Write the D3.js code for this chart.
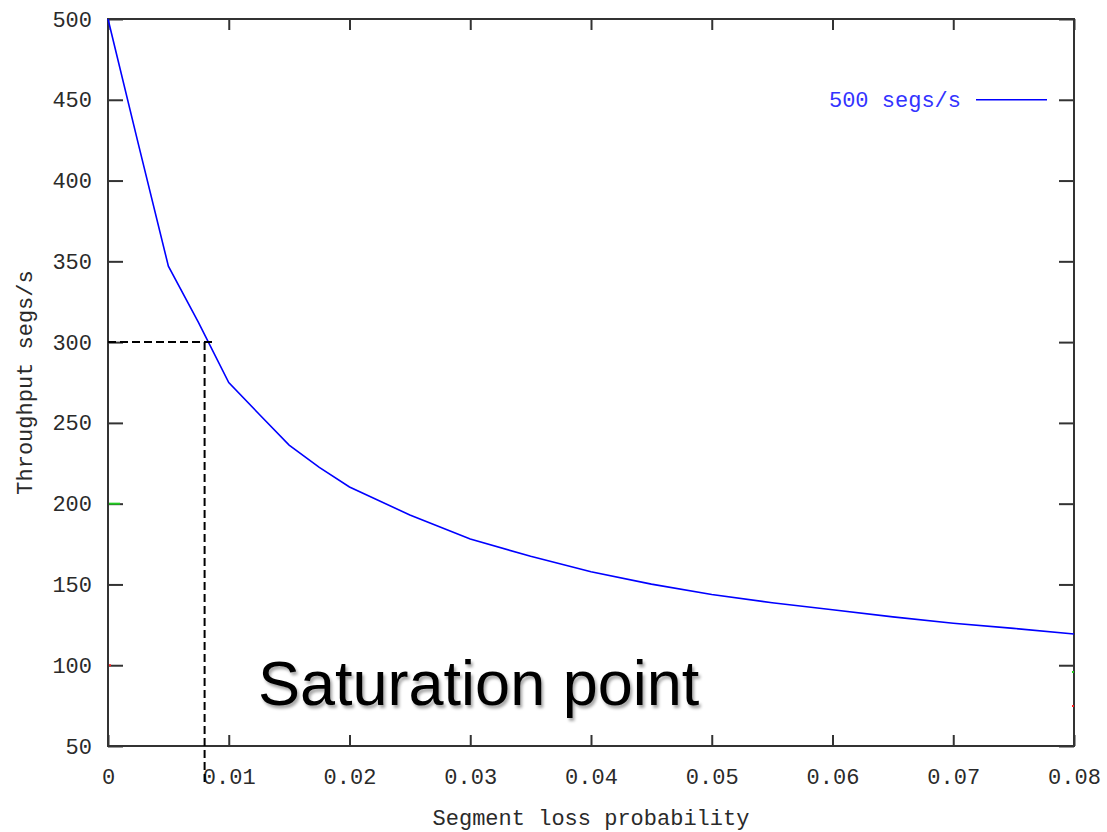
<!DOCTYPE html>
<html><head><meta charset="utf-8">
<script src="https://cdn.jsdelivr.net/npm/d3@7"></script>
<style>
html,body{margin:0;padding:0;background:#fff;}
svg{display:block;}
</style></head>
<body>
<script>
// ---- data ----
const lossProb = [0, 0.0025, 0.005, 0.0075, 0.01, 0.0125, 0.015, 0.0175, 0.02, 0.025, 0.03, 0.035, 0.04, 0.045, 0.05, 0.055, 0.06, 0.065, 0.07, 0.075, 0.08];
const throughput = [500, 423, 347, 312, 275, 255.5, 236.3, 222.5, 210.3, 193.0, 178.1, 167.4, 157.8, 150.2, 143.8, 138.7, 134.3, 129.9, 126.0, 122.8, 119.3];
const seriesName = "500 segs/s";
const xTicks = [0, 0.01, 0.02, 0.03, 0.04, 0.05, 0.06, 0.07, 0.08];
const yTicks = [50, 100, 150, 200, 250, 300, 350, 400, 450, 500];
const saturationX = 0.0080;
const saturationY = 300;
const stubX = [0, 0, 0.08, 0.08];
const stubY = [200, 100, 95.8, 74.8];
const stubColor = ["#22cc22", "#ff2222", "#22cc22", "#ff2222"];

const W = 1107, H = 832;
const m = {left:108, right:33, top:19, bottom:86};
const svg = d3.select("body").append("svg").attr("width", W).attr("height", H);

const x = d3.scaleLinear().domain([0, 0.08]).range([m.left, W - m.right]);
const y = d3.scaleLinear().domain([50, 500]).range([H - m.bottom, m.top]);

const axisColor = "#333";
const monoFont = "Liberation Mono, DejaVu Sans Mono, monospace";
const textColor = "#2a2a2a";
const fmtX = d => d === 0 ? "0" : d3.format(".2f")(d);

function styleAxis(g){
  g.select(".domain").remove();
  g.selectAll(".tick line").attr("stroke", axisColor).attr("stroke-width", 2);
  g.selectAll(".tick text").attr("fill", textColor).attr("font-size", 22).attr("font-family", monoFont);
}

// bottom axis (ticks inward)
svg.append("g").attr("transform", `translate(0,${y(50)})`)
  .call(d3.axisBottom(x).tickValues(xTicks).tickFormat(fmtX).tickSizeInner(-11).tickSizeOuter(0).tickPadding(22))
  .call(styleAxis);
// top axis (mirrored ticks, no labels)
svg.append("g").attr("transform", `translate(0,${y(500)})`)
  .call(d3.axisTop(x).tickValues(xTicks).tickFormat("").tickSizeInner(-11).tickSizeOuter(0))
  .call(styleAxis);
// left axis
svg.append("g").attr("transform", `translate(${x(0)},0)`)
  .call(d3.axisLeft(y).tickValues(yTicks).tickSizeInner(-15).tickSizeOuter(0).tickPadding(16))
  .call(styleAxis);
// right axis (mirrored)
svg.append("g").attr("transform", `translate(${x(0.08)},0)`)
  .call(d3.axisRight(y).tickValues(yTicks).tickFormat("").tickSizeInner(-15).tickSizeOuter(0))
  .call(styleAxis);

// frame
svg.append("rect").attr("x", x(0)).attr("y", y(500))
  .attr("width", x(0.08) - x(0)).attr("height", y(50) - y(500))
  .attr("fill", "none").attr("stroke", axisColor).attr("stroke-width", 2);

// little stubs of hidden series at the border
svg.append("g").selectAll("line").data(stubX).join("line")
  .attr("x1", (d,i) => x(d) + (d === 0 ? 1 : -2))
  .attr("x2", (d,i) => x(d) + (d === 0 ? (i===0 ? 12 : 3) : 0))
  .attr("y1", (d,i) => y(stubY[i])).attr("y2", (d,i) => y(stubY[i]))
  .attr("stroke", (d,i) => stubColor[i]).attr("stroke-width", 2);

// data line
const pts = lossProb.map((d,i) => [d, throughput[i]]);
svg.append("path").datum(pts)
  .attr("fill", "none").attr("stroke", "#0000ff").attr("stroke-width", 1.6)
  .attr("d", d3.line().x(d => x(d[0])).y(d => y(d[1])));

// dashed saturation guides
svg.append("line")
  .attr("x1", x(0)).attr("x2", x(saturationX) + 10)
  .attr("y1", y(saturationY)).attr("y2", y(saturationY))
  .attr("stroke", "#000").attr("stroke-width", 2).attr("stroke-dasharray", "8,4");
svg.append("line")
  .attr("x1", x(saturationX)).attr("x2", x(saturationX))
  .attr("y1", y(saturationY)).attr("y2", y(50) + 39)
  .attr("stroke", "#000").attr("stroke-width", 2).attr("stroke-dasharray", "8,4");

// legend
const legY = y(450);
svg.append("text").attr("x", 961).attr("y", legY).attr("dy", "0.35em")
  .attr("text-anchor", "end").attr("font-family", monoFont)
  .attr("font-size", 22).attr("fill", "#3333ff").text(seriesName);
svg.append("line").attr("x1", 976).attr("x2", 1047).attr("y1", legY).attr("y2", legY)
  .attr("stroke", "#0000ff").attr("stroke-width", 1.6);

// axis titles
svg.append("text").attr("x", (x(0) + x(0.08)) / 2).attr("y", 817).attr("dy", "0.35em")
  .attr("text-anchor", "middle").attr("font-family", monoFont)
  .attr("font-size", 22).attr("fill", textColor).text("Segment loss probability");
svg.append("text").attr("transform", `translate(24,${(y(50) + y(500)) / 2}) rotate(-90)`)
  .attr("dy", "0.35em").attr("text-anchor", "middle")
  .attr("font-family", monoFont)
  .attr("font-size", 22).attr("fill", textColor).text("Throughput segs/s");

// annotation
const defs = svg.append("defs");
const f = defs.append("filter").attr("id", "sh").attr("x", "-10%").attr("y", "-20%").attr("width", "120%").attr("height", "140%");
f.append("feDropShadow").attr("dx", 2).attr("dy", 3).attr("stdDeviation", 1.5).attr("flood-color", "#000").attr("flood-opacity", 0.35);
svg.append("text").attr("x", 258).attr("y", 705)
  .attr("font-family", "Liberation Sans, Arial, sans-serif").attr("font-size", 63)
  .attr("fill", "#000").attr("filter", "url(#sh)").text("Saturation point");
</script>
</body></html>
